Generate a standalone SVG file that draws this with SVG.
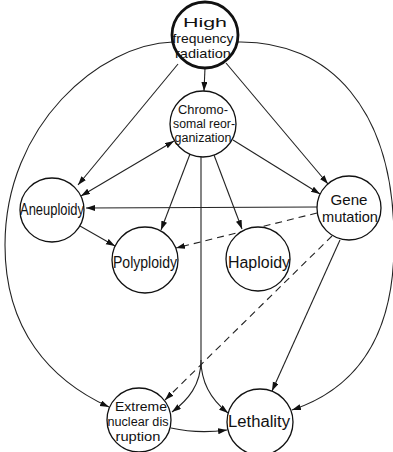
<svg xmlns="http://www.w3.org/2000/svg" width="393" height="452" viewBox="0 0 393 452">
<style>
.n{fill:#fff;stroke:#111;stroke-width:1.3}
.nb{fill:#fff;stroke:#111;stroke-width:2.8}
.t{font-family:"Liberation Sans",Arial,sans-serif;font-size:16px;fill:#111;text-anchor:middle}
.s{font-size:12.5px}
.h{font-size:13.5px}
.g{font-size:15px}
.c{fill:none;stroke:#222;stroke-width:1.1}
.d{stroke-dasharray:7 5}
.a{marker-end:url(#ah)}
</style>
<defs>
<marker id="ah" markerWidth="10" markerHeight="7" refX="9" refY="3" orient="auto-start-reverse" markerUnits="userSpaceOnUse">
<path d="M0,0 L9,3 L0,6 z" fill="#111"/>
</marker>
</defs>
<rect width="393" height="452" fill="#fff"/>
<g id="connectors">
<path class="c a" d="M173,42 C100,44 5,125 5,245 C5,330 50,380 109,407"/>
<path class="c a" d="M237,42 C330,40 394,110 394,240 C395,335 358,388 292,410"/>
<path class="c a" d="M205,68 L204,91"/>
<path class="c a" d="M178,64 L78,185"/>
<path class="c a" d="M226,63 L328,184"/>
<path class="c a" d="M174,141 L81,196" marker-start="url(#ah)"/>
<path class="c a" d="M233,140 L320,194"/>
<path class="c a" d="M190,154 L161,230"/>
<path class="c a" d="M214,155 L242,229"/>
<path class="c a" d="M201,157 L201,360 C201,385 188,400 172,412"/>
<path class="c a" d="M201,360 C201,385 214,402 228,413"/>
<path class="c a" d="M317,207 L86,208"/>
<path class="c a d" d="M317,213 L176,248"/>
<path class="c a d" d="M332,236 L165,400"/>
<path class="c a" d="M340,240 L272,391"/>
<path class="c a" d="M80,226 L115,246"/>
<path class="c a" d="M171,428 Q198,434 227,430"/>
</g>
<g id="high-frequency-radiation">
<circle class="nb" cx="205" cy="35" r="33"/>
<text class="t h" x="205" y="27" textLength="44" lengthAdjust="spacingAndGlyphs">High</text>
<text class="t h" x="203" y="43" textLength="61" lengthAdjust="spacingAndGlyphs">frequency</text>
<text class="t h" x="203" y="58" textLength="56" lengthAdjust="spacingAndGlyphs">radiation</text>
</g>
<g id="chromosomal-reorganization">
<circle class="n" cx="203" cy="124" r="33"/>
<text class="t s" x="203" y="114" textLength="50" lengthAdjust="spacingAndGlyphs">Chromo-</text>
<text class="t s" x="204" y="128" textLength="62" lengthAdjust="spacingAndGlyphs">somal reor-</text>
<text class="t s" x="203" y="142" textLength="57" lengthAdjust="spacingAndGlyphs">ganization</text>
</g>
<g id="aneuploidy">
<circle class="n" cx="52" cy="210" r="32"/>
<text class="t" x="52" y="215" textLength="64" lengthAdjust="spacingAndGlyphs">Aneuploidy</text>
</g>
<g id="gene-mutation">
<circle class="n" cx="349" cy="208" r="32"/>
<text class="t g" x="349" y="205" textLength="37" lengthAdjust="spacingAndGlyphs">Gene</text>
<text class="t g" x="350" y="222" textLength="56" lengthAdjust="spacingAndGlyphs">mutation</text>
</g>
<g id="polyploidy">
<circle class="n" cx="145" cy="260" r="33"/>
<text class="t" x="145" y="268" textLength="64" lengthAdjust="spacingAndGlyphs">Polyploidy</text>
</g>
<g id="haploidy">
<circle class="n" cx="258" cy="259" r="32"/>
<text class="t" x="259" y="268" textLength="62" lengthAdjust="spacingAndGlyphs">Haploidy</text>
</g>
<g id="extreme-nuclear-disruption">
<circle class="n" cx="139" cy="420" r="32"/>
<text class="t s" x="141" y="411" textLength="52" lengthAdjust="spacingAndGlyphs">Extreme</text>
<text class="t s" x="138" y="426" textLength="61" lengthAdjust="spacingAndGlyphs">nuclear dis</text>
<text class="t s" x="138" y="441" textLength="45" lengthAdjust="spacingAndGlyphs">ruption</text>
</g>
<g id="lethality">
<circle class="n" cx="260" cy="422" r="33"/>
<text class="t" x="259" y="427" textLength="62" lengthAdjust="spacingAndGlyphs">Lethality</text>
</g>
</svg>
